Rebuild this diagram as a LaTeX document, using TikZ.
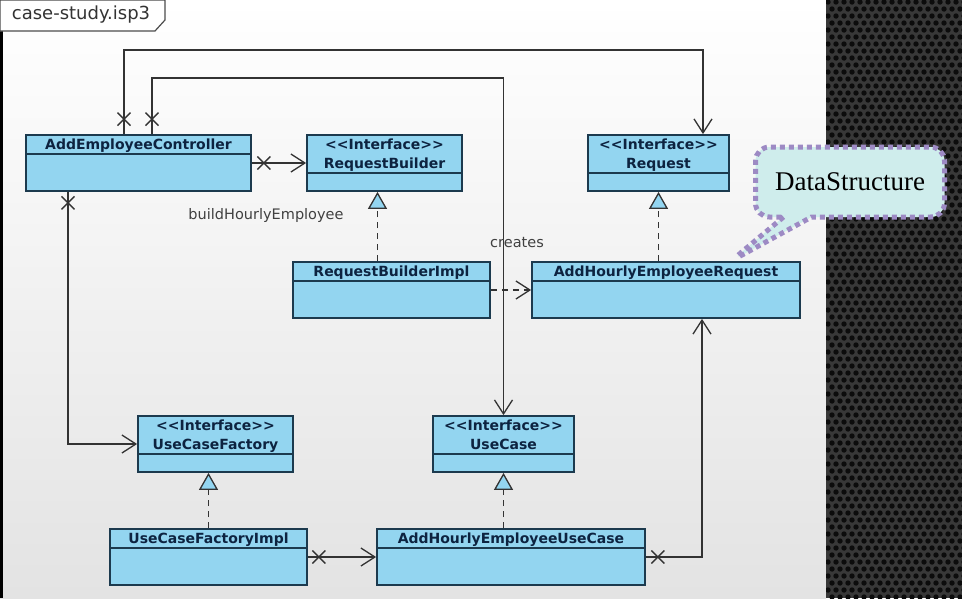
\documentclass[tikz,border=0pt]{standalone}
\usepackage{fontspec}
\setsansfont{DejaVu Sans}[Ligatures=TeXOff]
\newfontfamily\calloutfont{Liberation Serif}
\definecolor{clsfill}{HTML}{93D5F0}
\definecolor{clsline}{HTML}{1C3A4E}
\definecolor{clstext}{HTML}{0D2340}
\definecolor{wire}{HTML}{333333}
\definecolor{panel}{HTML}{383838}
\definecolor{hole}{HTML}{0C0C0C}
\definecolor{dsfill}{HTML}{CFEDEC}
\definecolor{dsline}{HTML}{9D8AC4}
\usetikzlibrary{calc, positioning, arrows.meta, shapes.callouts, decorations.markings}

\begin{document}
\begin{tikzpicture}[x=1pt, y=-1pt,
  cls/.style={draw=clsline, fill=clsfill, line width=1.8pt, inner sep=0pt},
  hdr/.style={font=\sffamily\bfseries\fontsize{14}{19}\selectfont, text=clstext,
              align=center, inner sep=2pt, anchor=north, yshift=-2.5pt},
  divider/.style={draw=clsline, line width=1.4pt},
  note/.style={font=\sffamily\fontsize{14.5}{16}\selectfont, text=black!75},
  assoc/.style={draw=wire, line width=1.3pt, -{Straight Barb[length=14pt,width=18pt]}},
  real/.style={draw=wire, line width=1.3pt, dash pattern=on 6pt off 5pt,
               -{Triangle[length=17pt,width=19pt,fill=clsfill]}},
  dep/.style={draw=wire, line width=1.3pt, dash pattern=on 6pt off 5pt,
              -{Straight Barb[length=14pt,width=18pt]}},
  xmark/.style={postaction={decorate, decoration={markings,
      mark=at position #1 with {\draw[wire, line width=1.3pt, solid, -] (-6.5pt,-6.5pt) -- (6.5pt,6.5pt) (-6.5pt,6.5pt) -- (6.5pt,-6.5pt);}}}}
]
\useasboundingbox (0,0) rectangle (962,598);

% slide background and frame tab
\shade[top color=white, middle color=white, bottom color=black!11] (0,0) rectangle (826,598);
\fill[black] (0,0) rectangle (3,598);
\begin{scope}
  \clip (826,0) rectangle (962,598);
  \fill[panel] (826,0) rectangle (962,598);
  \foreach \row in {0,...,86}
    \foreach \col in {0,...,17}
      \fill[hole] ({828+8*\col+4*mod(\row,2)},{2+7*\row}) circle (2.7pt);
\end{scope}
\filldraw[fill=white, draw=black!70, line width=1.2pt] (0,0) -- (165,0) -- (165,20) -- (155,31) -- (0,31) -- cycle;
\node[font=\sffamily\fontsize{18}{20}\selectfont, text=black!80] (frametitle) at (81,15) {case-study.isp3};

% classes
\node[cls, minimum width=225, minimum height=56, label={[hdr]north:AddEmployeeController}] (ctrl) at (138.5,163) {};
\node[cls, minimum width=155, minimum height=56, label={[hdr]north:{<<Interface>>\\RequestBuilder}}] (rbuilder) at (384.5,163) {};
\node[cls, minimum width=141, minimum height=56, label={[hdr]north:{<<Interface>>\\Request}}] (req) at (658.5,163) {};
\node[cls, minimum width=197, minimum height=56, label={[hdr]north:RequestBuilderImpl}] (rbimpl) at (391.5,290) {};
\node[cls, minimum width=268, minimum height=56, label={[hdr]north:AddHourlyEmployeeRequest}] (ahreq) at (666,290) {};
\node[cls, minimum width=155, minimum height=56, label={[hdr]north:{<<Interface>>\\UseCaseFactory}}] (ucf) at (215.5,444) {};
\node[cls, minimum width=141, minimum height=56, label={[hdr]north:{<<Interface>>\\UseCase}}] (uc) at (503.5,444) {};
\node[cls, minimum width=197, minimum height=56, label={[hdr]north:UseCaseFactoryImpl}] (ucfimpl) at (208.5,557) {};
\node[cls, minimum width=268, minimum height=56, label={[hdr]north:AddHourlyEmployeeUseCase}] (ahuc) at (511,557) {};

\foreach \c in {ctrl, rbimpl, ahreq, ucfimpl, ahuc}
  \draw[divider] ([yshift=-20pt]\c.north west) -- ([yshift=-20pt]\c.north east);
\foreach \c in {rbuilder, req, ucf, uc}
  \draw[divider] ([yshift=-39pt]\c.north west) -- ([yshift=-39pt]\c.north east);

% connectors
\draw[assoc, xmark=15pt] ([xshift=-14.5pt]ctrl.north) -- ++(0,-84) -| ([xshift=44.5pt]req.north);
\draw[assoc, xmark=15pt] ([xshift=13.5pt]ctrl.north) -- ++(0,-56) -| (uc.north);
\draw[assoc, xmark=12pt] (ctrl.east) -- (rbuilder.west);
\draw[assoc, xmark=11pt] ([xshift=-70.5pt]ctrl.south) |- (ucf.west);
\draw[real] ([xshift=-7pt]rbuilder.south |- rbimpl.north) -- ([xshift=-7pt]rbuilder.south);
\draw[real] (req.south |- ahreq.north) -- (req.south);
\draw[dep] (rbimpl.east) -- (ahreq.west);
\draw[real] (ucfimpl.north) -- (ucfimpl.north |- ucf.south);
\draw[real] (uc.south |- ahuc.north) -- (uc.south);
\draw[assoc, xmark=11pt] (ucfimpl.east) -- (ahuc.west);
\draw[assoc, xmark=12pt] (ahuc.east) -| ([xshift=36pt]ahreq.south);

\node[note] (build) at (266,215) {buildHourlyEmployee};
\node[note] (creates) at (517,243) {creates};

% callout
\node[shape=rectangle callout, callout absolute pointer={([xshift=-70pt]ahreq.north east)},
      callout pointer width=28pt, draw=dsline, fill=dsfill, line width=5pt,
      dash pattern=on 5pt off 4pt, rounded corners=14pt, minimum width=189, minimum height=70,
      font=\calloutfont\fontsize{27}{30}\selectfont] (ds) at (850,182) {DataStructure};
\end{tikzpicture}
\end{document}
